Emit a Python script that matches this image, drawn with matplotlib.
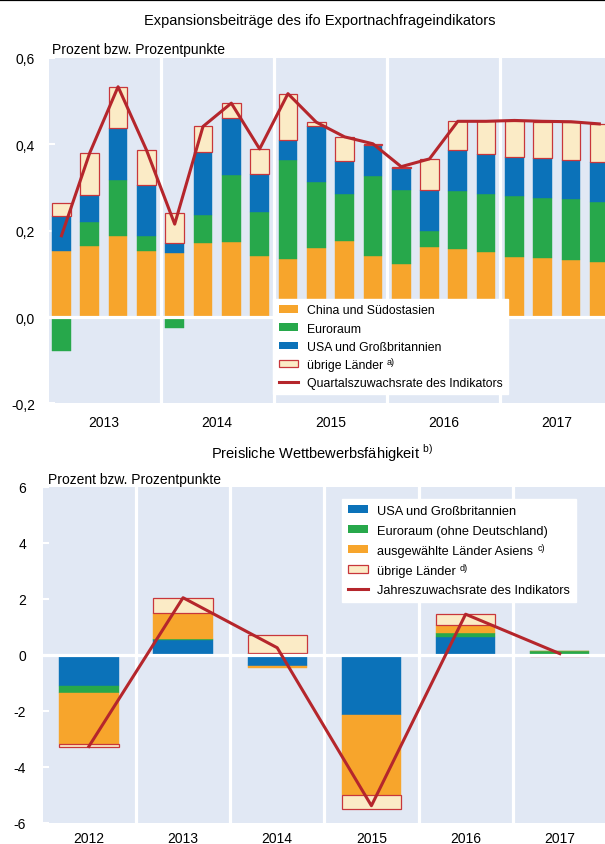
"""
ifo Exportnachfrageindikator und preisliche Wettbewerbsfähigkeit
"""

import numpy as np
import matplotlib
matplotlib.use("Agg")
import matplotlib.pyplot as plt
from matplotlib.patches import Patch
from matplotlib.lines import Line2D
from matplotlib.transforms import IdentityTransform

plt.rcParams['font.family'] = ['Liberation Sans', 'DejaVu Sans']

# Colours
ORANGE = '#F7A52C'
GREEN = '#27A84B'
BLUE = '#0B72B9'
OTHER_FILL = '#FBEBC6'
OTHER_EDGE = '#C8363B'
LINE_RED = '#B5262C'
BG = '#E1E8F4'

# --- Top chart: quarterly contributions 2013Q1 - 2017Q4 ---
top_years = ['2013', '2014', '2015', '2016', '2017']
top_china = [0.152, 0.165, 0.188, 0.153, 0.147, 0.172, 0.174, 0.141, 0.134, 0.160,
             0.177, 0.141, 0.123, 0.163, 0.157, 0.150, 0.139, 0.137, 0.132, 0.128]
top_euro = [-0.078, 0.056, 0.128, 0.035, -0.025, 0.065, 0.155, 0.102, 0.229, 0.153,
            0.108, 0.185, 0.172, 0.036, 0.135, 0.135, 0.140, 0.139, 0.140, 0.139]
top_usa = [0.082, 0.062, 0.121, 0.118, 0.024, 0.146, 0.131, 0.087, 0.047, 0.128,
           0.075, 0.071, 0.049, 0.095, 0.095, 0.093, 0.091, 0.092, 0.091, 0.092]
top_other = [0.031, 0.097, 0.095, 0.081, 0.069, 0.058, 0.035, 0.059, 0.107, 0.010,
             0.057, 0.004, 0.004, 0.072, 0.066, 0.075, 0.084, 0.084, 0.088, 0.088]
top_rate = [0.188, 0.380, 0.533, 0.387, 0.215, 0.441, 0.495, 0.389, 0.517, 0.451,
            0.417, 0.401, 0.348, 0.366, 0.453, 0.453, 0.455, 0.453, 0.452, 0.447]
top_yticks = [-0.2, 0.0, 0.2, 0.4, 0.6]
top_ylabels = ['-0,2', '0,0', '0,2', '0,4', '0,6']

# --- Bottom chart: annual contributions 2012 - 2017 ---
bot_years = ['2012', '2013', '2014', '2015', '2016', '2017']
bot_usa = [-1.12, 0.54, -0.39, -2.14, 0.63, 0.0]
bot_euro = [-0.24, 0.02, 0.08, 0.0, 0.16, 0.12]
bot_asia = [-1.85, 0.95, -0.07, -2.88, 0.26, 0.0]
bot_other = [-0.09, 0.51, 0.62, -0.48, 0.39, -0.06]
bot_rate = [-3.28, 2.04, 0.25, -5.40, 1.45, 0.04]
bot_yticks = [-6, -4, -2, 0, 2, 4, 6]
bot_ylabels = ['-6', '-4', '-2', '0', '2', '4', '6']


def stacked(ax, x, series, width):
    """Stack positive values upwards and negative values downwards."""
    pos = np.zeros(len(x))
    neg = np.zeros(len(x))
    for vals, fc, ec, lw in series:
        vals = np.asarray(vals, dtype=float)
        bottom = np.where(vals >= 0, pos, neg)
        ax.bar(x, vals, width, bottom=bottom, color=fc, edgecolor=ec,
               linewidth=lw, zorder=2)
        pos += np.clip(vals, 0, None)
        neg += np.clip(vals, None, 0)


def style_axes(ax, yticks, ylabels, ypad):
    ax.set_facecolor(BG)
    for s in ax.spines.values():
        s.set_visible(False)
    ax.set_yticks(yticks)
    ax.set_yticklabels(ylabels, fontsize=10)
    ax.tick_params(axis='y', direction='in', color='white', length=4,
                   width=1.5, pad=ypad)
    ax.axhline(0, color='white', lw=2.3, zorder=3)


def make_legend(ax, handles, labels, anchor, fs, spacing):
    leg = ax.legend(handles, labels, loc='upper left', bbox_to_anchor=anchor,
                    bbox_transform=fig.transFigure, fontsize=fs, frameon=True,
                    fancybox=False, framealpha=1, edgecolor='white',
                    handlelength=1.6, handleheight=0.6, labelspacing=spacing,
                    borderpad=0.45, handletextpad=0.7, borderaxespad=0)
    leg.set_zorder(5)
    return leg


fig = plt.figure(figsize=(6.05, 8.45), dpi=100)
fig.add_artist(Line2D([0, 1], [0.9988, 0.9988], color='black', lw=1.6))

# ---------------- top ----------------
ax1 = fig.add_axes([49 / 605, 1 - 404.4 / 845, 556 / 605, 345.6 / 845])
xq = np.arange(len(top_china))
stacked(ax1, xq, [(top_china, ORANGE, ORANGE, 0.3),
                  (top_euro, GREEN, GREEN, 0.3),
                  (top_usa, BLUE, BLUE, 0.3),
                  (top_other, OTHER_FILL, OTHER_EDGE, 0.9)], 0.66)
ax1.plot(xq, top_rate, color=LINE_RED, lw=2.2, zorder=4)
for xv in [3.5, 7.5, 11.5, 15.5]:
    ax1.axvline(xv, color='white', lw=2.3, zorder=1)
ax1.set_xlim(-0.44, 19.2)
ax1.set_ylim(-0.2, 0.6)
style_axes(ax1, top_yticks, top_ylabels, 10)
ax1.set_xticks([1.5, 5.5, 9.5, 13.5, 17.5])
ax1.set_xticklabels(top_years, fontsize=10)
ax1.tick_params(axis='x', length=0, pad=8)

h1 = [Patch(facecolor=ORANGE), Patch(facecolor=GREEN), Patch(facecolor=BLUE),
      Patch(facecolor=OTHER_FILL, edgecolor=OTHER_EDGE, linewidth=0.9),
      Line2D([], [], color=LINE_RED, lw=2.2)]
l1 = ['China und Südostasien', 'Euroraum', 'USA und Großbritannien',
      'übrige Länder', 'Quartalszuwachsrate des Indikators']
leg1 = make_legend(ax1, h1, l1, (273 / 605, 1 - 300 / 845), 8.8, 0.5)

fig.text(320 / 605, 1 - 21 / 845, 'Expansionsbeiträge des ifo Exportnachfrageindikators',
         ha='center', va='center', fontsize=10.5)
fig.text(52 / 605, 1 - 50 / 845, 'Prozent bzw. Prozentpunkte',
         ha='left', va='center', fontsize=10)

# ---------------- bottom ----------------
ax2 = fig.add_axes([42.7 / 605, 1 - 823.5 / 845, 562.3 / 605, 335.5 / 845])
xy = np.arange(len(bot_years))
stacked(ax2, xy, [(bot_usa, BLUE, BLUE, 0.3),
                  (bot_euro, GREEN, GREEN, 0.3),
                  (bot_asia, ORANGE, ORANGE, 0.3),
                  (bot_other, OTHER_FILL, OTHER_EDGE, 0.9)], 0.63)
ax2.plot(xy, bot_rate, color=LINE_RED, lw=2.2, zorder=4)
for xv in [0.5, 1.5, 2.5, 3.5, 4.5]:
    ax2.axvline(xv, color='white', lw=2.3, zorder=1)
ax2.set_xlim(-0.49, 5.48)
ax2.set_ylim(-6, 6)
style_axes(ax2, bot_yticks, bot_ylabels, 12)
ax2.set_xticks(xy)
ax2.set_xticklabels(bot_years, fontsize=10)
ax2.tick_params(axis='x', length=0, pad=6)

h2 = [Patch(facecolor=BLUE), Patch(facecolor=GREEN), Patch(facecolor=ORANGE),
      Patch(facecolor=OTHER_FILL, edgecolor=OTHER_EDGE, linewidth=0.9),
      Line2D([], [], color=LINE_RED, lw=2.2)]
l2 = ['USA und Großbritannien', 'Euroraum (ohne Deutschland)',
      'ausgewählte Länder Asiens', 'übrige Länder', 'Jahreszuwachsrate des Indikators']
leg2 = make_legend(ax2, h2, l2, (342 / 605, 1 - 500 / 845), 9.2, 0.62)

fig.text(322 / 605, 1 - 453 / 845, 'Preisliche Wettbewerbsfähigkeit $^{\\mathregular{b)}}$',
         ha='center', va='center', fontsize=10.5)
fig.text(48 / 605, 1 - 480.5 / 845, 'Prozent bzw. Prozentpunkte',
         ha='left', va='center', fontsize=10)

# footnote marks after legend labels
fig.canvas.draw()
for leg, marks in [(leg1, {3: 'a)'}), (leg2, {2: 'c)', 3: 'd)'})]:
    texts = leg.get_texts()
    for i, m in marks.items():
        bb = texts[i].get_window_extent()
        fig.text(bb.x1 + 4, bb.y1 + 2, m, transform=IdentityTransform(),
                 fontsize=6.5, ha='left', va='top', zorder=6)

fig.savefig('out.png', dpi=100)
